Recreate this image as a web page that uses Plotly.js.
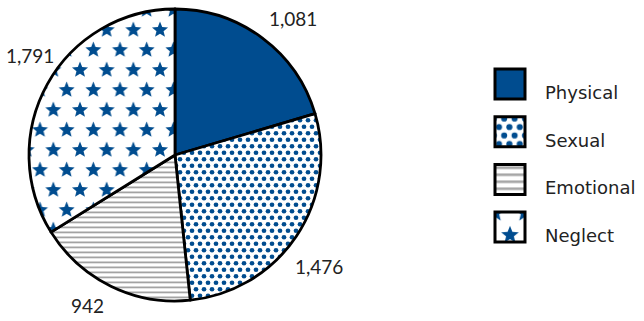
<!DOCTYPE html>
<html><head><meta charset="utf-8">
<script src="https://cdn.plot.ly/plotly-3.0.1.min.js"></script>
<style>html,body{margin:0;padding:0;background:#fff;}#chart{width:644px;height:321px;}</style>
</head><body><div id="chart"></div>
<script>
var categories = ['Physical', 'Sexual', 'Emotional', 'Neglect'];
var counts = [1081, 1476, 942, 1791];

var W = 644, H = 321;
var BLUE = '#004C8F';
var GRAY = '#a3a3a3';
var FONT = {family: 'Lato', size: 19, color: '#222'};
var domX = [29 / W, 321 / W], domY = [20 / H, 312 / H];

var data = [{
  type: 'pie',
  labels: categories,
  values: counts,
  sort: false,
  direction: 'clockwise',
  rotation: 0,
  domain: {x: domX, y: domY},
  textinfo: 'none',
  hoverinfo: 'none',
  marker: {
    colors: [BLUE, '#ffffff', '#ffffff', '#ffffff'],
    line: {color: '#000', width: 2.8},
    pattern: {
      shape: ['', '.', '-', '+'],
      fgcolor: [BLUE, BLUE, GRAY, BLUE],
      bgcolor: [BLUE, '#ffffff', '#ffffff', '#ffffff'],
      size: [8, 8, 5, 20],
      solidity: [1, 0.3, 0.3, 0.2],
      fillmode: 'replace'
    }
  }
}];

// value labels placed just outside each slice, derived from the values
var total = counts.reduce(function (a, b) { return a + b; }, 0);
var cxPx = (domX[0] + domX[1]) / 2 * W;
var cyPx = (1 - (domY[0] + domY[1]) / 2) * H;
var Rpx = (domY[1] - domY[0]) * H / 2;
var ctx = document.createElement('canvas').getContext('2d');
ctx.font = FONT.size + 'px "' + FONT.family + '"';
var annotations = [];
var acc = 0;
counts.forEach(function (v) {
  var txt = v.toLocaleString('en-US');
  var mid = (acc + v / 2) / total * 2 * Math.PI + 4 * Math.PI / 180;
  acc += v;
  var sx = Math.sin(mid), cy = Math.cos(mid);
  var hw = ctx.measureText(txt).width / 2, hh = 9;
  var d = Rpx + 12 + hw * Math.abs(sx) + hh * Math.abs(cy);
  var px = Math.min(Math.max(cxPx + d * sx, hw + 6), W - hw - 6);
  var py = Math.min(Math.max(cyPx - d * cy, hh + 4), H - hh - 4);
  annotations.push({
    xref: 'paper', yref: 'paper',
    x: px / W,
    y: 1 - py / H,
    text: txt,
    showarrow: false, xanchor: 'center', yanchor: 'middle',
    font: FONT
  });
});

var layout = {
  width: W, height: H,
  margin: {l: 0, r: 0, t: 0, b: 0},
  paper_bgcolor: '#fff',
  showlegend: true,
  annotations: annotations,
  legend: {x: 505 / W, xanchor: 'left', y: 0.5, yanchor: 'middle',
           font: {family: 'DejaVu Sans', size: 18, color: '#222'}}
};

function starPath(cx, cy, R, r) {
  var d = '';
  for (var k = 0; k < 10; k++) {
    var rad = (k % 2 === 0) ? R : r;
    var a = -Math.PI / 2 + k * Math.PI / 5;
    d += (k === 0 ? 'M' : 'L') + (cx + rad * Math.cos(a)).toFixed(2) + ',' + (cy + rad * Math.sin(a)).toFixed(2);
  }
  return d + 'Z';
}

var NS = 'http://www.w3.org/2000/svg';
function el(tag, attrs) {
  var e = document.createElementNS(NS, tag);
  for (var k in attrs) e.setAttribute(k, attrs[k]);
  return e;
}
function fillPattern(p, idx, transform) {
  while (p.firstChild) p.removeChild(p.firstChild);
  p.setAttribute('patternUnits', 'userSpaceOnUse');
  if (transform) p.setAttribute('patternTransform', transform);
  var w, h;
  if (idx === 1) {        // staggered dots
    w = 8; h = 13;
    p.appendChild(el('rect', {width: w, height: h, fill: '#fff'}));
    [[4, 3.25], [0, 9.75], [8, 9.75], [0, -3.25], [8, -3.25], [4, 16.25]].forEach(function (c) {
      p.appendChild(el('circle', {cx: c[0], cy: c[1], r: 2.35, fill: BLUE}));
    });
  } else if (idx === 2) { // horizontal gray lines
    w = 5; h = 5;
    p.appendChild(el('rect', {width: w, height: h, fill: '#fff'}));
    p.appendChild(el('rect', {x: 0, y: 1.5, width: w, height: 1.8, fill: GRAY}));
  } else if (idx === 3) { // staggered stars
    w = 26.67; h = 40;
    p.appendChild(el('rect', {width: w, height: h, fill: '#fff'}));
    [[w / 2, 10], [0, 30], [w, 30], [0, -10], [w, -10], [w / 2, 50]].forEach(function (c) {
      p.appendChild(el('path', {d: starPath(c[0], c[1], 8.4, 3.7), fill: BLUE}));
    });
  }
  p.setAttribute('width', w); p.setAttribute('height', h);
}

Plotly.newPlot('chart', data, layout, {staticPlot: true}).then(function (gd) {
  var svg = gd.querySelector('svg.main-svg');
  var defs = svg.querySelector('defs') || svg.insertBefore(el('defs', {}), svg.firstChild);
  // slices
  gd.querySelectorAll('g.slice').forEach(function (s, i) {
    var path = s.querySelector('path.surface');
    if (i === 0 || !path) return;
    var p = el('pattern', {id: 'slicepat' + i});
    defs.appendChild(p);
    fillPattern(p, i, null);
    path.style.fill = 'url(#slicepat' + i + ')';
  });
  // legend
  var leg = gd.querySelector('g.legend');
  var m = /translate\(([-\d.]+)[ ,]*([-\d.]+)?\)/.exec(leg.getAttribute('transform') || '');
  var ly = m ? parseFloat(m[2] || 0) : 0;
  gd.querySelectorAll('.legend [clip-path]').forEach(function (e) { e.removeAttribute('clip-path'); });
  var legTransforms = [null, 'scale(1.3)', 'translate(0,-2) scale(1.4)', 'translate(-29.67,-11) scale(1.1)'];
  gd.querySelectorAll('.legend g.traces').forEach(function (g, i) {
    var t = /translate\(([-\d.]+)[ ,]*([-\d.]+)?\)/.exec(g.getAttribute('transform') || '');
    var x = t ? parseFloat(t[1]) : 0;
    g.setAttribute('transform', 'translate(' + x + ',' + (92 + i * 47.7 - ly) + ')');
    g.querySelectorAll('.legendpoints path').forEach(function (p) {
      p.setAttribute('d', 'M0,7H-30V-23H0Z');
      p.style.strokeWidth = '3px';
      p.style.stroke = '#000';
      if (i > 0) {
        var pat = el('pattern', {id: 'legpat' + i});
        defs.appendChild(pat);
        fillPattern(pat, i, legTransforms[i]);
        p.style.fill = 'url(#legpat' + i + ')';
      }
    });
  });
});
</script></body></html>
